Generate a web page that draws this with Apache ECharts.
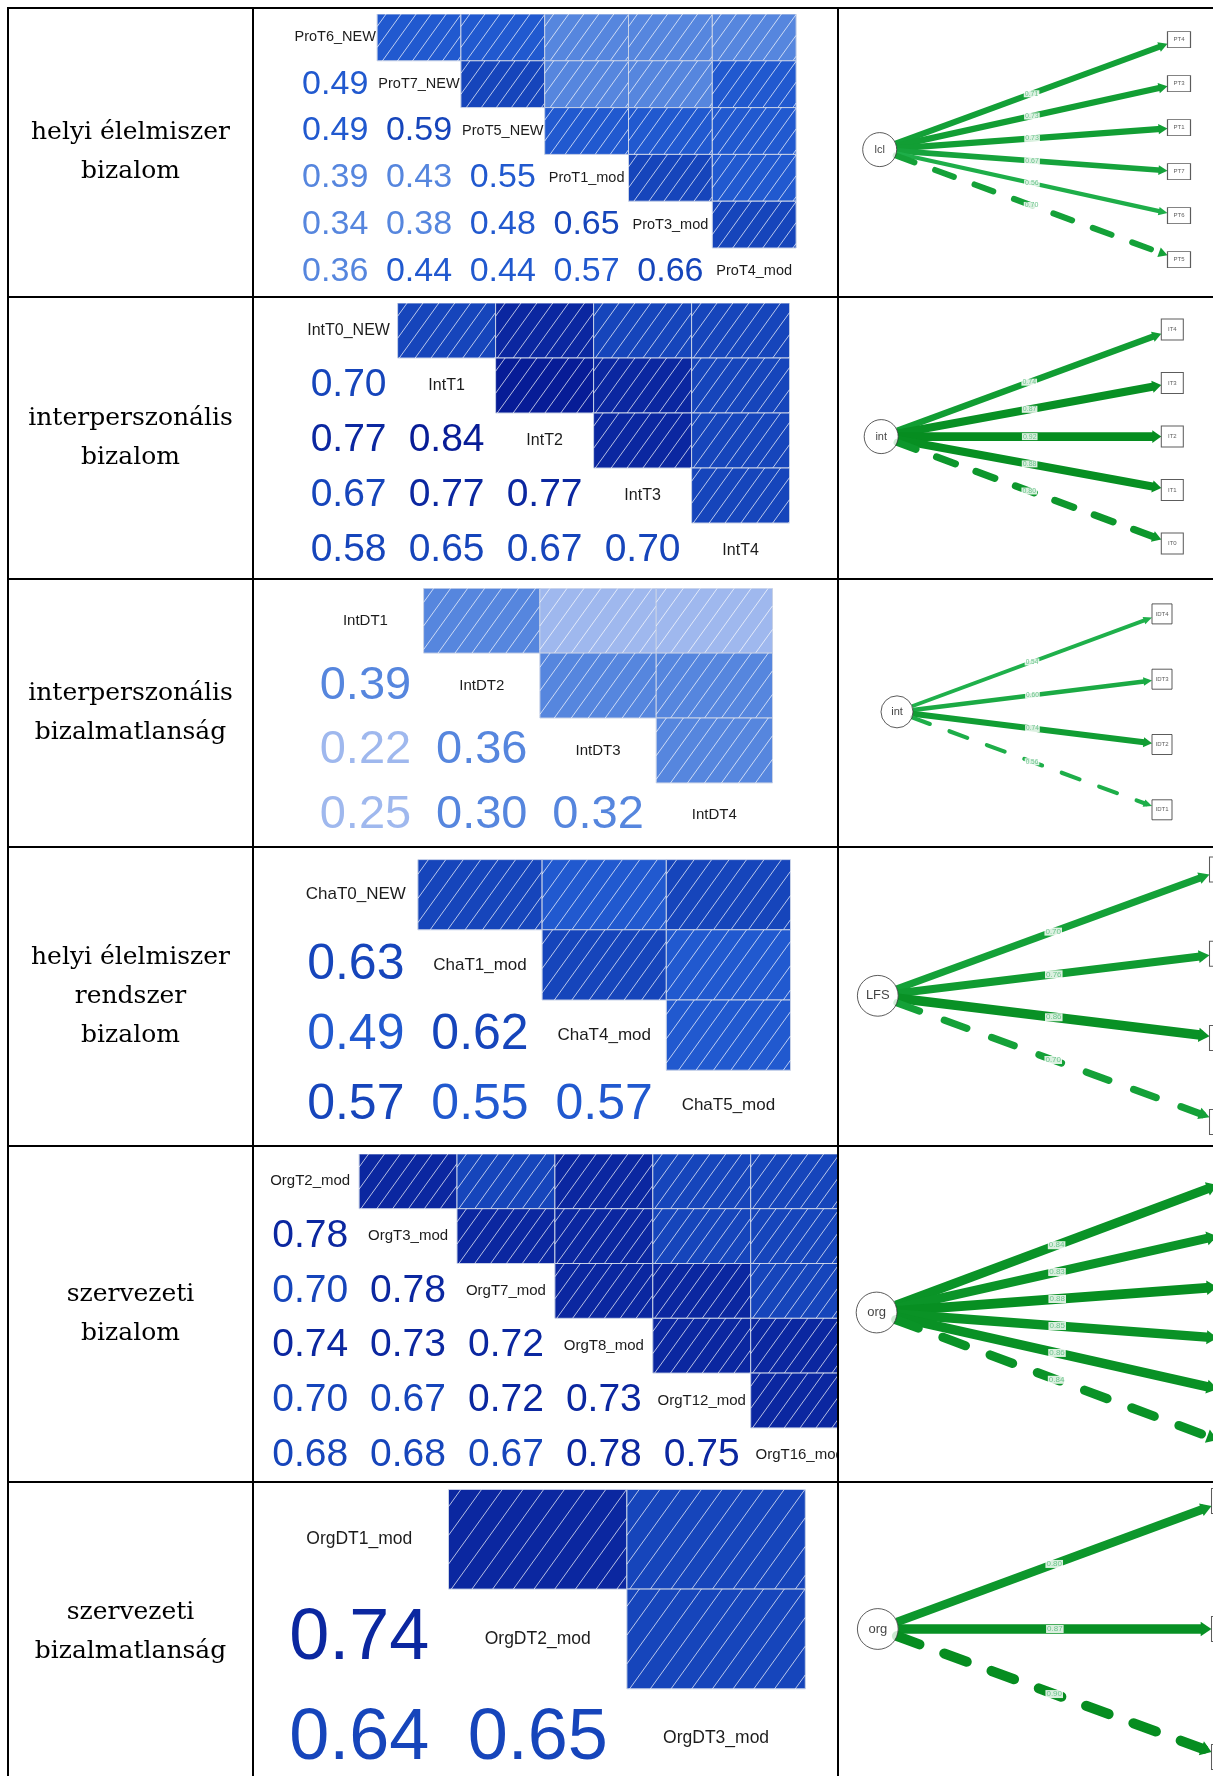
<!DOCTYPE html>
<html><head><meta charset="utf-8">
<script src="https://cdn.jsdelivr.net/npm/echarts/dist/echarts.min.js"></script>
<style>html,body{margin:0;padding:0;background:#fff;}#c{width:1213px;height:1776px;}</style>
</head><body><div id="c"></div>
<script>
// ================= DATA =================
const rowTitles = [
  ['helyi élelmiszer', 'bizalom'],
  ['interperszonális', 'bizalom'],
  ['interperszonális', 'bizalmatlanság'],
  ['helyi élelmiszer', 'rendszer', 'bizalom'],
  ['szervezeti', 'bizalom'],
  ['szervezeti', 'bizalmatlanság']
];

// correlation matrices: variable names and lower triangle (row i, columns 0..i-1)
const m1Vars = ['ProT6_NEW', 'ProT7_NEW', 'ProT5_NEW', 'ProT1_mod', 'ProT3_mod', 'ProT4_mod'];
const m1Lower = [[0.49], [0.49, 0.59], [0.39, 0.43, 0.55], [0.34, 0.38, 0.48, 0.65], [0.36, 0.44, 0.44, 0.568, 0.66]];
const m2Vars = ['IntT0_NEW', 'IntT1', 'IntT2', 'IntT3', 'IntT4'];
const m2Lower = [[0.70], [0.77, 0.84], [0.67, 0.77, 0.77], [0.58, 0.65, 0.67, 0.70]];
const m3Vars = ['IntDT1', 'IntDT2', 'IntDT3', 'IntDT4'];
const m3Lower = [[0.39], [0.22, 0.36], [0.25, 0.30, 0.32]];
const m4Vars = ['ChaT0_NEW', 'ChaT1_mod', 'ChaT4_mod', 'ChaT5_mod'];
const m4Lower = [[0.63], [0.49, 0.62], [0.572, 0.55, 0.566]];
const m5Vars = ['OrgT2_mod', 'OrgT3_mod', 'OrgT7_mod', 'OrgT8_mod', 'OrgT12_mod', 'OrgT16_mod'];
const m5Lower = [[0.78], [0.70, 0.78], [0.74, 0.73, 0.72], [0.70, 0.67, 0.72, 0.73], [0.68, 0.68, 0.67, 0.78, 0.75]];
const m6Vars = ['OrgDT1_mod', 'OrgDT2_mod', 'OrgDT3_mod'];
const m6Lower = [[0.74], [0.64, 0.65]];

// path diagrams: latent, indicators (top to bottom), standardized loadings, fixed (dashed) indicator
const p1Latent = 'lcl';
const p1Items = ['PT4', 'PT3', 'PT1', 'PT7', 'PT6', 'PT5'];
const p1Loads = [0.71, 0.73, 0.73, 0.67, 0.56, 0.70];
const p1Fixed = 'PT5';
const p2Latent = 'int';
const p2Items = ['IT4', 'IT3', 'IT2', 'IT1', 'IT0'];
const p2Loads = [0.74, 0.87, 0.92, 0.88, 0.80];
const p2Fixed = 'IT0';
const p3Latent = 'int';
const p3Items = ['IDT4', 'IDT3', 'IDT2', 'IDT1'];
const p3Loads = [0.54, 0.60, 0.74, 0.56];
const p3Fixed = 'IDT1';
const p4Latent = 'LFS';
const p4Items = ['CT5', 'CT4', 'CT1', 'CT0'];
const p4Loads = [0.70, 0.76, 0.86, 0.70];
const p4Fixed = 'CT0';
const p5Latent = 'org';
const p5Items = ['OT16', 'OT12', 'OT8', 'OT7', 'OT3', 'OT2'];
const p5Loads = [0.84, 0.83, 0.88, 0.85, 0.86, 0.84];
const p5Fixed = 'OT2';
const p6Latent = 'org';
const p6Items = ['ODT3', 'ODT2', 'ODT1'];
const p6Loads = [0.80, 0.87, 0.90];
const p6Fixed = 'ODT1';

// ================= LAYOUT / STYLE =================
const W = 1213, H = 1776;
const matLayout = [
  {left: 293.3, top: 14, cw: 83.8, ch: 46.8, num: 34, lab: 14.5},
  {left: 299.6, top: 303, cw: 98, ch: 55, num: 39, lab: 16},
  {left: 307.3, top: 588.2, cw: 116.3, ch: 64.9, num: 47, lab: 15},
  {left: 293.7, top: 859.6, cw: 124.2, ch: 70.2, num: 50, lab: 17},
  {left: 261.2, top: 1153.9, cw: 97.9, ch: 54.8, num: 39, lab: 15, clipRight: 838},
  {left: 270.1, top: 1489.4, cw: 178.4, ch: 99.7, num: 72, lab: 17.5}
];
const pathLayout = [
  {cx: 879.7, boxX: 1179, top: 39.6, gap: 44, r: 17, bw: 23, bh: 16, font: 11, boxFont: 6, labFont: 7, s: 1},
  {cx: 881.2, boxX: 1172.3, top: 329.6, gap: 53.5, r: 17, bw: 22, bh: 21, font: 11, boxFont: 6, labFont: 7, s: 1},
  {cx: 897, boxX: 1162, top: 613.9, gap: 65.3, r: 16, bw: 20, bh: 20, font: 11, boxFont: 6, labFont: 6.5, s: 0.95},
  {cx: 877.8, boxX: 1223, top: 869.5, gap: 84.2, r: 20.4, bw: 27, bh: 25, font: 13, boxFont: 8, labFont: 8, s: 1.2},
  {cx: 876.6, boxX: 1231, top: 1180, gap: 53, r: 20.4, bw: 27, bh: 25, font: 13, boxFont: 8, labFont: 8, s: 1.2},
  {cx: 877.8, boxX: 1225, top: 1501, gap: 128, r: 20.4, bw: 27, bh: 25, font: 13, boxFont: 8, labFont: 8, s: 1.2}
];
const rowLinesY = [8, 297, 579, 847, 1146, 1482];
const colLinesX = [8, 253, 838];
const titleMidY = [152, 437.5, 713, 996.5, 1314, 1632];

function corrColor(v) {
  if (v < 0.295) return '#9fb8ee';
  if (v < 0.435) return '#5686de';
  if (v < 0.571) return '#2159cf';
  if (v < 0.712) return '#1645bb';
  if (v < 0.80) return '#0b27a0';
  return '#071c96';
}
function mix(a, b, t) {
  const pa = [1, 3, 5].map(i => parseInt(a.substr(i, 2), 16));
  const pb = [1, 3, 5].map(i => parseInt(b.substr(i, 2), 16));
  return 'rgb(' + pa.map((x, i) => Math.round(x + (pb[i] - x) * t)).join(',') + ')';
}
function edgeColor(l) {
  const t = Math.max(0, Math.min(1, (l - 0.5) / 0.4));
  return mix('#22b450', '#068d20', t);
}

const grids = [], xAxes = [], yAxes = [], series = [];

function buildMatrix(k, vars, lower, L) {
  const n = vars.length;
  const items = [];
  vars.forEach((name, i) => items.push({kind: 2, col: i, row: i, v: 0, text: name}));
  lower.forEach((rowVals, ri) => {
    const i = ri + 1;
    rowVals.forEach((v, j) => {
      items.push({kind: 1, col: j, row: i, v: v});
      items.push({kind: 0, col: i, row: j, v: v});
    });
  });
  const width = Math.min(n * L.cw, (L.clipRight || W) - L.left);
  const height = Math.min(n * L.ch, H - L.top);
  grids.push({left: L.left, top: L.top, width: width, height: height});
  xAxes.push({type: 'value', gridIndex: k, min: -0.5, max: -0.5 + width / L.cw, show: false});
  yAxes.push({type: 'value', gridIndex: k, min: -0.5, max: -0.5 + height / L.ch, inverse: true, show: false});
  series.push({
    type: 'custom', xAxisIndex: k, yAxisIndex: k, clip: true, silent: true,
    data: items.map(it => [it.col, it.row, it.v]),
    renderItem: function (params, api) {
      const it = items[params.dataIndex];
      const c = api.coord([api.value(0), api.value(1)]);
      const sz = api.size([1, 1]);
      const w = sz[0], h = sz[1];
      if (it.kind === 0) {
        const x0 = c[0] - w / 2, y0 = c[1] - h / 2;
        const col = corrColor(it.v);
        const children = [{type: 'rect', shape: {x: x0, y: y0, width: w, height: h},
          style: {fill: col, stroke: '#c7d1e6', lineWidth: 1}}];
        const a = 0.72, sp = 10 + 0.06 * w;
        for (let u = sp * 0.6; u < w + a * h; u += sp) {
          const ylo = Math.max(0, (u - w) / a), yhi = Math.min(h, u / a);
          if (yhi - ylo < 0.5) continue;
          children.push({type: 'line', shape: {x1: x0 + u - a * ylo, y1: y0 + ylo, x2: x0 + u - a * yhi, y2: y0 + yhi},
            style: {stroke: 'rgba(255,255,255,0.78)', lineWidth: 0.9}});
        }
        return {type: 'group', children: children};
      } else if (it.kind === 1) {
        return {type: 'text', x: c[0], y: c[1], style: {text: it.v.toFixed(2), fill: corrColor(it.v),
          font: 'normal ' + L.num + 'px "Liberation Sans", Arial, sans-serif', textAlign: 'center', textVerticalAlign: 'middle'}};
      }
      return {type: 'text', x: c[0], y: c[1], style: {text: it.text, fill: '#1c1c1c',
        font: 'normal ' + L.lab + 'px "Liberation Sans", Arial, sans-serif', textAlign: 'center', textVerticalAlign: 'middle'}};
    }
  });
}

function buildPath(k, latent, itemsArr, loads, fixed, L) {
  const n = itemsArr.length;
  const gi = grids.length;
  const span = L.boxX - L.cx;
  const width = Math.min(span, W - L.cx);
  grids.push({left: L.cx, top: L.top, width: width, height: (n - 1) * L.gap});
  xAxes.push({type: 'value', gridIndex: gi, min: 0, max: width / span, show: false});
  yAxes.push({type: 'value', gridIndex: gi, min: 0, max: n - 1, inverse: true, show: false});
  const mid = (n - 1) / 2;
  series.push({
    type: 'custom', xAxisIndex: gi, yAxisIndex: gi, clip: false, silent: true, z: 2,
    data: itemsArr.map((nm, i) => [1, i, loads[i], nm === fixed ? 1 : 0]),
    renderItem: function (params, api) {
      const p0 = api.coord([0, mid]);
      const p1 = api.coord([1, api.value(1)]);
      const ld = api.value(2), dashed = api.value(3) === 1;
      const dx = p1[0] - p0[0], dy = p1[1] - p0[1];
      const len = Math.sqrt(dx * dx + dy * dy);
      const ux = dx / len, uy = dy / len;
      const sx = p0[0] + ux * L.r, sy = p0[1] + uy * L.r;
      const tEnd = Math.min((L.bw / 2) / Math.max(Math.abs(ux), 1e-6), (L.bh / 2) / Math.max(Math.abs(uy), 1e-6));
      const ex = p1[0] - ux * tEnd, ey = p1[1] - uy * tEnd;
      const w = (ld - 0.2) * 12 * L.s;
      const col = edgeColor(ld);
      const aLen = 9 * L.s, hw = w / 2 + 2 * L.s;
      const bx = ex - ux * aLen, by = ey - uy * aLen;
      const lx = ex - ux * aLen * 0.7, ly = ey - uy * aLen * 0.7;
      const nx = -uy, ny = ux;
      const children = [
        {type: 'line', shape: {x1: sx, y1: sy, x2: lx, y2: ly},
          style: dashed ? {stroke: col, lineWidth: w, lineDash: [20 * L.s, 22 * L.s], lineCap: 'round'}
                        : {stroke: col, lineWidth: w, lineCap: 'butt'}},
        {type: 'polygon', shape: {points: [[ex, ey], [bx + nx * hw, by + ny * hw], [bx - nx * hw, by - ny * hw]]},
          style: {fill: col}},
        {type: 'text', x: (sx + ex) / 2, y: (sy + ey) / 2, style: {text: ld.toFixed(2), fill: '#6cc48c',
          font: 'normal ' + L.labFont + 'px "Liberation Sans", Arial, sans-serif', textAlign: 'center', textVerticalAlign: 'middle',
          backgroundColor: 'rgba(255,255,255,0.85)', padding: [0, 1]}}
      ];
      return {type: 'group', children: children};
    }
  });
  series.push({
    type: 'scatter', xAxisIndex: gi, yAxisIndex: gi, clip: false, silent: true, z: 5,
    data: [{value: [0, mid], name: latent}],
    symbol: 'circle', symbolSize: 2 * L.r,
    itemStyle: {color: '#fff', borderColor: '#333', borderWidth: 1},
    label: {show: true, position: 'inside', formatter: '{b}', color: '#111', fontSize: L.font, fontFamily: 'Liberation Sans'}
  });
  series.push({
    type: 'scatter', xAxisIndex: gi, yAxisIndex: gi, clip: false, silent: true, z: 5,
    data: itemsArr.map((nm, i) => ({value: [1, i], name: nm})),
    symbol: 'rect', symbolSize: [L.bw, L.bh],
    itemStyle: {color: '#fff', borderColor: '#333', borderWidth: 1},
    label: {show: true, position: 'inside', formatter: '{b}', color: '#333', fontSize: L.boxFont, fontFamily: 'Liberation Sans'}
  });
}

const mats = [[m1Vars, m1Lower], [m2Vars, m2Lower], [m3Vars, m3Lower], [m4Vars, m4Lower], [m5Vars, m5Lower], [m6Vars, m6Lower]];
mats.forEach((m, k) => buildMatrix(k, m[0], m[1], matLayout[k]));
const paths = [
  [p1Latent, p1Items, p1Loads, p1Fixed], [p2Latent, p2Items, p2Loads, p2Fixed], [p3Latent, p3Items, p3Loads, p3Fixed],
  [p4Latent, p4Items, p4Loads, p4Fixed], [p5Latent, p5Items, p5Loads, p5Fixed], [p6Latent, p6Items, p6Loads, p6Fixed]
];
paths.forEach((p, k) => buildPath(k, p[0], p[1], p[2], p[3], pathLayout[k]));

// table frame + row titles
const graphic = [];
rowLinesY.forEach(y => graphic.push({type: 'line', z: 100, silent: true, shape: {x1: 7, y1: y, x2: W, y2: y}, style: {stroke: '#000', lineWidth: 2}}));
colLinesX.forEach(x => graphic.push({type: 'line', z: 100, silent: true, shape: {x1: x, y1: 7, x2: x, y2: H}, style: {stroke: '#000', lineWidth: 2}}));
rowTitles.forEach((t, i) => graphic.push({type: 'text', z: 100, silent: true, x: 130.5, y: titleMidY[i],
  style: {text: t.join('\n'), font: 'normal 25px "DejaVu Serif", serif', fill: '#000', textAlign: 'center', textVerticalAlign: 'middle', lineHeight: 39}}));

const chart = echarts.init(document.getElementById('c'), null, {renderer: 'canvas'});
chart.setOption({
  animation: false,
  backgroundColor: '#fff',
  grid: grids, xAxis: xAxes, yAxis: yAxes, series: series, graphic: graphic
});
</script></body></html>
